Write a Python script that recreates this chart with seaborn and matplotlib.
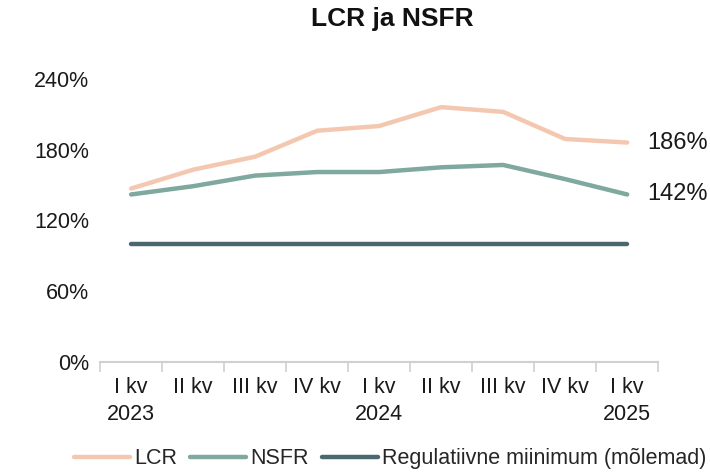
import matplotlib
matplotlib.use("Agg")
import matplotlib.pyplot as plt
import seaborn as sns
import pandas as pd
import numpy as np

quarters = ["I kv\n2023", "II kv", "III kv", "IV kv", "I kv\n2024", "II kv", "III kv", "IV kv", "I kv\n2025"]
lcr = [147, 163, 174, 196, 200, 216, 212, 189, 186]
nsfr = [142, 149, 158, 161, 161, 165, 167, 155, 142]
minimum = [100, 100, 100, 100, 100, 100, 100, 100, 100]
series_names = ["LCR", "NSFR", "Regulatiivne miinimum (mõlemad)"]
colors = ["#F4C8B0", "#7FA89F", "#4B6770"]
yticks = [0, 60, 120, 180, 240]

sns.set_theme(style="white")
plt.rcParams['font.family'] = ['Liberation Sans', 'DejaVu Sans']

x = np.arange(len(quarters))
df = pd.DataFrame({
    "x": np.concatenate([x, x, x]),
    "value": lcr + nsfr + minimum,
    "series": [series_names[0]] * 9 + [series_names[1]] * 9 + [series_names[2]] * 9,
})

txt = "#1a1a1a"
fig = plt.figure(figsize=(7.1, 4.72), dpi=100)
ax = fig.add_axes([0.141, 0.233, 0.786, 0.600])
sns.lineplot(data=df, x="x", y="value", hue="series", palette=colors, linewidth=3.2, ax=ax, legend=True)

ax.set_xlim(-0.5, len(quarters) - 0.5)
ax.set_ylim(0, 240)
ax.set_yticks(yticks)
ax.set_yticklabels([f"{v}%" for v in yticks], fontsize=15.5, color=txt)
ax.set_xticks(np.arange(-0.5, len(quarters), 1.0))
ax.set_xticklabels([])
ax.set_xticks(x, minor=True)
ax.set_xticklabels(quarters, minor=True, fontsize=15.5, color=txt, linespacing=1.35)
ax.tick_params(axis="x", which="major", length=7, color="#D0D0D0", width=1.2, direction="out", bottom=True)
ax.tick_params(axis="x", which="minor", length=0, pad=11)
ax.tick_params(axis="y", length=0, pad=8)
ax.set_xlabel("")
ax.set_ylabel("")
for s in ["top", "right", "left"]:
    ax.spines[s].set_visible(False)
ax.spines["bottom"].set_color("#D0D0D0")
ax.spines["bottom"].set_linewidth(1.5)

ax.text(len(quarters) - 1 + 0.33, lcr[-1], f"{lcr[-1]}%", fontsize=17, va="center", ha="left", color=txt, clip_on=False)
ax.text(len(quarters) - 1 + 0.33, nsfr[-1], f"{nsfr[-1]}%", fontsize=17, va="center", ha="left", color=txt, clip_on=False)

fig.suptitle("LCR ja NSFR", fontsize=19, fontweight="bold", y=0.985, x=0.553, color="#111111")

handles, labels = ax.get_legend_handles_labels()
ax.legend(handles, labels, loc="lower center", bbox_to_anchor=(0.55, -0.035), bbox_transform=fig.transFigure,
          ncol=3, frameon=False, fontsize=15.5, handlelength=2.6, handletextpad=0.2, columnspacing=0.6)

fig.savefig("out.png", dpi=100)
